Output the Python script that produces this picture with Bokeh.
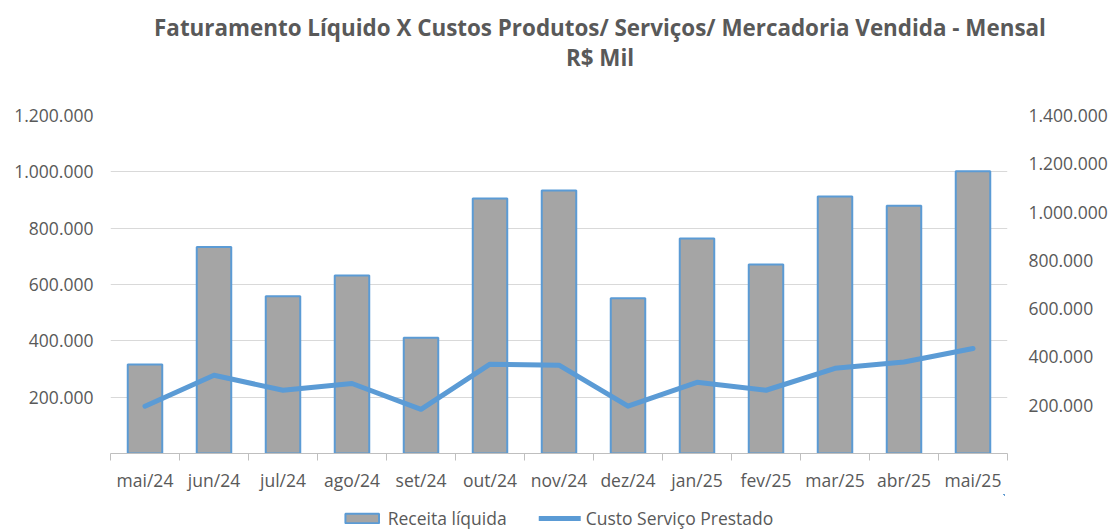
from bokeh.plotting import figure
from bokeh.layouts import column
from bokeh.models import (Range1d, LinearAxis, FixedTicker, Legend, LegendItem,
                          Div, ColumnDataSource)
from bokeh.embed import file_html
from bokeh.resources import INLINE

months = ["mai/24", "jun/24", "jul/24", "ago/24", "set/24", "out/24", "nov/24",
          "dez/24", "jan/25", "fev/25", "mar/25", "abr/25", "mai/25"]
receita = [316000, 733000, 558000, 632000, 411000, 905000, 934000,
           551000, 763000, 671000, 912000, 880000, 1002000]
custo = [196000, 324000, 262000, 290000, 183000, 370000, 366000,
         196000, 295000, 262000, 353000, 379000, 435000]
left_ticks = [200000, 400000, 600000, 800000, 1000000, 1200000]
right_ticks = [200000, 400000, 600000, 800000, 1000000, 1200000, 1400000]
title_lines = ["Faturamento Líquido X Custos Produtos/ Serviços/ Mercadoria Vendida - Mensal",
               "R$ Mil"]
series_names = ["Receita líquida", "Custo Serviço Prestado"]

def fmt(v):
    return f"{v:,}".replace(",", ".")

FONT = "Open Sans"
GRAY = "#595959"
BLUE = "#5b9bd5"
TICK_FS = "17.5px"
TOTAL_W = 1107
TITLE_H = 80

# ---- title strip (HTML text) ----
title_html = "<br>".join(title_lines)
t = Div(text=title_html, width=TOTAL_W, height=TITLE_H,
        styles={"box-sizing": "border-box", "padding-left": "83px", "padding-top": "8px",
                "width": f"{TOTAL_W}px", "text-align": "center", "font-family": FONT,
                "font-size": "22.4px", "font-weight": "bold", "line-height": "30px",
                "color": GRAY, "white-space": "nowrap"})

# ---- main chart ----
idx = list(range(len(months)))
src = ColumnDataSource(dict(x=idx, receita=receita, custo=custo))

p = figure(frame_width=897, frame_height=338, output_backend="svg", toolbar_location=None,
           x_range=Range1d(-0.5, len(months) - 0.5), y_range=Range1d(0, 1200000),
           min_border_left=110, min_border_right=100, min_border_top=25,
           min_border_bottom=0)
p.extra_y_ranges = {"right": Range1d(0, 1400000)}
p.outline_line_color = None
p.background_fill_color = "white"
p.border_fill_color = "white"

bar_style = dict(width=0.5, fill_color="#a5a5a5", line_color=BLUE, line_width=2)
line_style = dict(line_color=BLUE, line_width=5, line_cap="round", line_join="round")

p.vbar(x="x", top="receita", source=src, **bar_style)
p.line(x="x", y="custo", source=src, y_range_name="right", **line_style)

# x axis
xa = p.xaxis[0]
xa.ticker = FixedTicker(ticks=idx, minor_ticks=[i - 0.5 for i in range(len(months) + 1)])
xa.major_label_overrides = {i: m for i, m in enumerate(months)}
xa.major_tick_line_color = None
xa.major_tick_out = 0
xa.major_tick_in = 0
xa.minor_tick_line_color = "#bfbfbf"
xa.minor_tick_out = 7
xa.minor_tick_in = 0
xa.axis_line_color = "#bfbfbf"
xa.major_label_text_font = FONT
xa.major_label_text_font_size = TICK_FS
xa.major_label_text_color = GRAY
xa.major_label_standoff = 7

# left axis
ya = p.yaxis[0]
ya.ticker = FixedTicker(ticks=left_ticks)
ya.major_label_overrides = {v: fmt(v) for v in left_ticks}
ya.axis_line_color = None
ya.major_tick_line_color = None
ya.minor_tick_line_color = None
ya.major_tick_out = 0
ya.major_label_text_font = FONT
ya.major_label_text_font_size = TICK_FS
ya.major_label_text_color = GRAY
ya.major_label_standoff = 17

# right axis
ra = LinearAxis(y_range_name="right", ticker=FixedTicker(ticks=right_ticks))
ra.major_label_overrides = {v: fmt(v) for v in right_ticks}
ra.axis_line_color = None
ra.major_tick_line_color = None
ra.minor_tick_line_color = None
ra.major_tick_out = 0
ra.major_label_text_font = FONT
ra.major_label_text_font_size = TICK_FS
ra.major_label_text_color = GRAY
ra.major_label_standoff = 21
p.add_layout(ra, "right")

p.xgrid.grid_line_color = None
p.ygrid.ticker = FixedTicker(ticks=left_ticks)
p.ygrid.grid_line_color = "#d9d9d9"
p.ygrid.grid_line_width = 1

# ---- legend strip: same series, ranges set so only the legend shows ----
lf = figure(width=TOTAL_W, height=38, output_backend="svg", toolbar_location=None,
            x_range=Range1d(-1000, -999), y_range=Range1d(-1000, -999), min_border=0)
lf.axis.visible = False
lf.grid.visible = False
lf.outline_line_color = None
lf.border_fill_color = "white"
lf.background_fill_color = "white"
lb = lf.vbar(x="x", top="receita", source=src, **bar_style)
ll = lf.line(x="x", y="custo", source=src, **line_style)
legend = Legend(items=[LegendItem(label=series_names[0], renderers=[lb]),
                       LegendItem(label=series_names[1], renderers=[ll])],
                orientation="horizontal", location="bottom_center", border_line_color=None,
                background_fill_alpha=0, label_text_font=FONT, label_text_font_size=TICK_FS,
                label_text_color=GRAY, glyph_width=42, glyph_height=12, spacing=32,
                padding=0, margin=2, label_standoff=5, label_height=18)
lf.add_layout(legend)

layout = column(t, p, lf, spacing=0)
open("out.html", "w").write(file_html(layout, INLINE))
